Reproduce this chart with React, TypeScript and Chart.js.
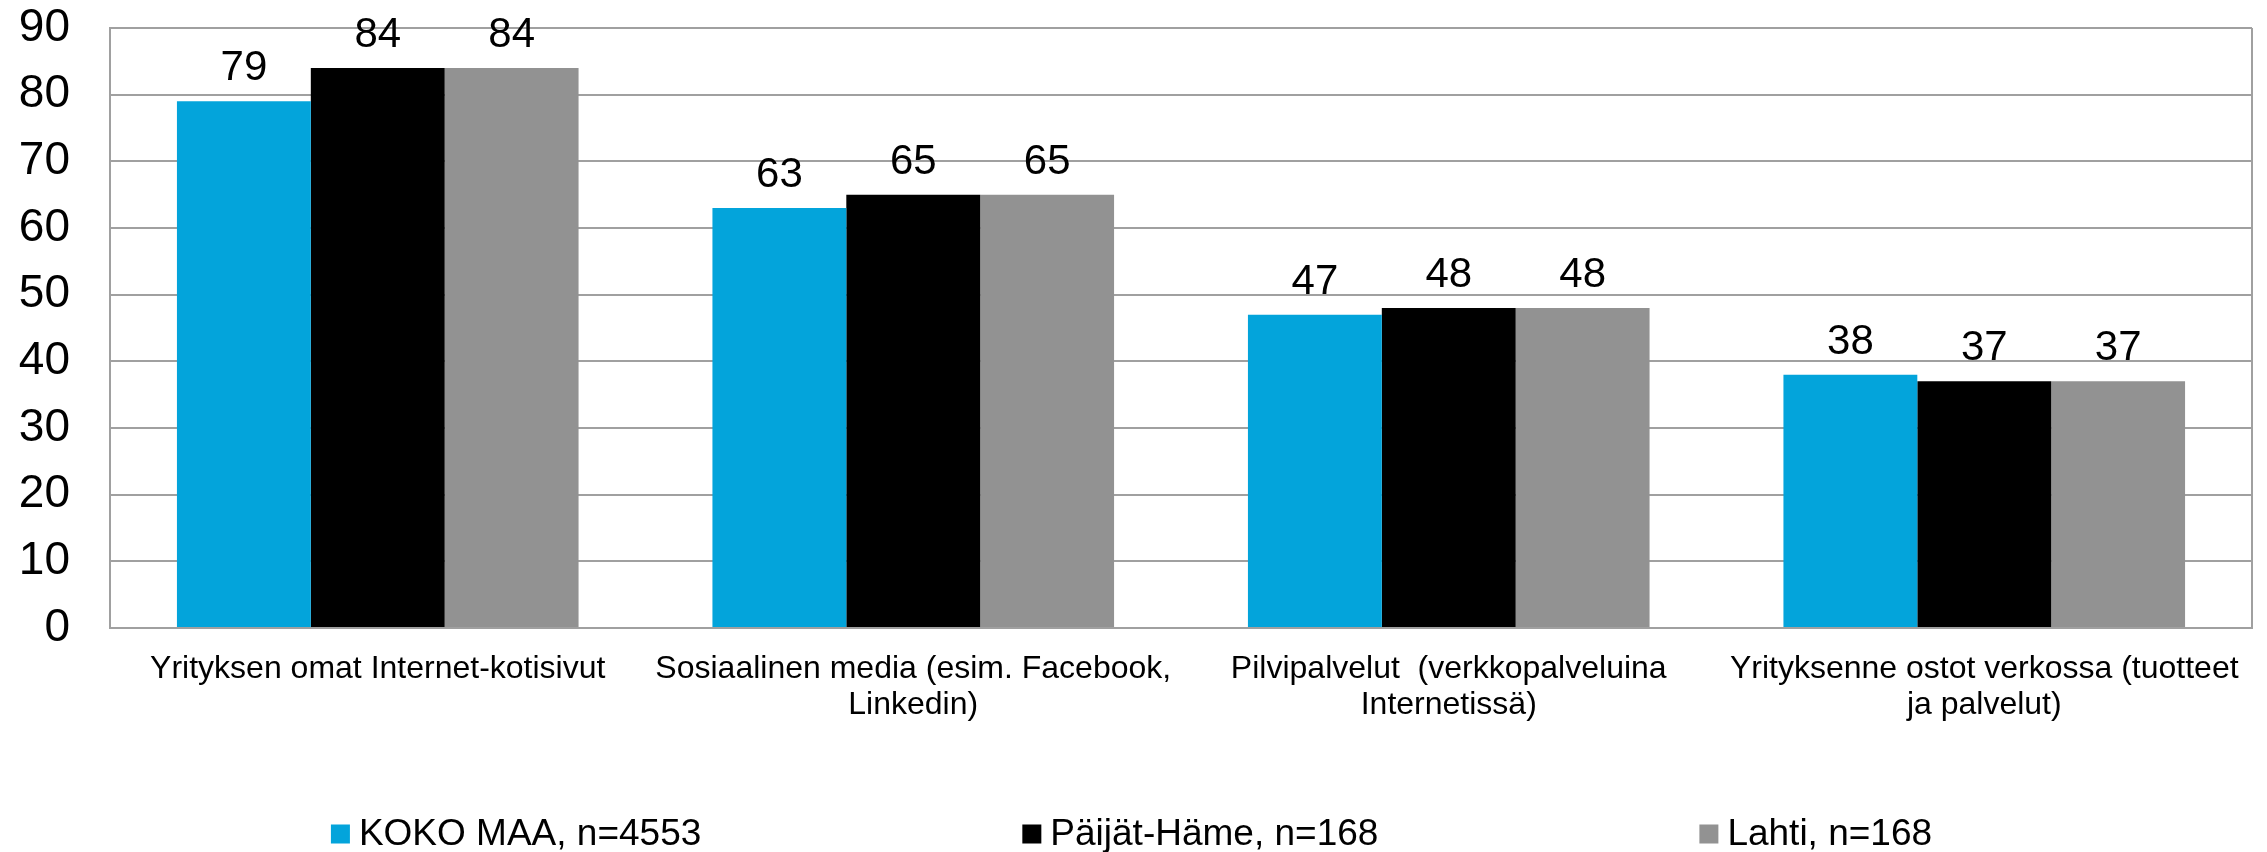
import React, { useEffect, useRef } from "react";
import { Chart, registerables } from "chart.js";

Chart.register(...registerables);

const categories: (string | string[])[] = [
  "Yrityksen omat Internet-kotisivut",
  ["Sosiaalinen media (esim. Facebook,", "Linkedin)"],
  ["Pilvipalvelut  (verkkopalveluina", "Internetissä)"],
  ["Yrityksenne ostot verkossa (tuotteet", "ja palvelut)"],
];

const seriesNames = ["KOKO MAA, n=4553", "Päijät-Häme, n=168", "Lahti, n=168"];
const kokoMaa = [79, 63, 47, 38];
const paijatHame = [84, 65, 48, 37];
const lahti = [84, 65, 48, 37];
const seriesColors = ["#03A4DB", "#000000", "#929292"];

const yMin = 0;
const yMax = 90;
const yStep = 10;

const FONT = "'Liberation Sans', Arial, 'DejaVu Sans', sans-serif";
const GRID = "#A0A0A0";

const dataLabelPlugin = {
  id: "dataLabels",
  afterDatasetsDraw(chart: any) {
    const ctx = chart.ctx;
    ctx.save();
    ctx.font = `42px ${FONT}`;
    ctx.fillStyle = "#000000";
    ctx.textAlign = "center";
    ctx.textBaseline = "alphabetic";
    chart.data.datasets.forEach((ds: any, i: number) => {
      const meta = chart.getDatasetMeta(i);
      meta.data.forEach((el: any, j: number) => {
        ctx.fillText(String(ds.data[j]), el.x, el.y - 21);
      });
    });
    ctx.restore();
  },
};

const borderPlugin = {
  id: "plotBorder",
  beforeDatasetsDraw(chart: any) {
    const { ctx, chartArea } = chart;
    ctx.save();
    ctx.strokeStyle = GRID;
    ctx.lineWidth = 2;
    ctx.beginPath();
    ctx.moveTo(chartArea.right, chartArea.top);
    ctx.lineTo(chartArea.right, chartArea.bottom);
    ctx.stroke();
    ctx.restore();
  },
};

const legendPlugin = {
  id: "customLegend",
  afterDraw(chart: any) {
    const ctx = chart.ctx;
    ctx.save();
    ctx.font = `37px ${FONT}`;
    ctx.textAlign = "left";
    ctx.textBaseline = "alphabetic";
    const box = 19;
    const gapText = 9;
    const gapItem = 321;
    const items = chart.data.datasets.map((ds: any) => ({
      text: ds.label,
      color: ds.backgroundColor,
      w: box + gapText + ctx.measureText(ds.label).width,
    }));
    const total =
      items.reduce((s: number, it: any) => s + it.w, 0) + gapItem * (items.length - 1);
    let x = chart.width / 2 - 2 - total / 2;
    const yCenter = 834;
    items.forEach((it: any) => {
      ctx.fillStyle = it.color;
      ctx.fillRect(x, yCenter - box / 2, box, box);
      ctx.fillStyle = "#000000";
      ctx.fillText(it.text, x + box + gapText, 845);
      x += it.w + gapItem;
    });
    ctx.restore();
  },
};

export default function App() {
  const canvasRef = useRef<HTMLCanvasElement | null>(null);

  useEffect(() => {
    document.body.style.margin = "0";
    const canvas = canvasRef.current;
    if (!canvas) return;
    const chart = new Chart(canvas, {
      type: "bar",
      data: {
        labels: categories,
        datasets: [
          { label: seriesNames[0], data: kokoMaa, backgroundColor: seriesColors[0] },
          { label: seriesNames[1], data: paijatHame, backgroundColor: seriesColors[1] },
          { label: seriesNames[2], data: lahti, backgroundColor: seriesColors[2] },
        ],
      },
      options: {
        responsive: false,
        animation: false,
        devicePixelRatio: 1,
        layout: { padding: { left: 19, right: 15, top: 28, bottom: 131 } },
        datasets: {
          bar: { categoryPercentage: 0.75, barPercentage: 1.0, borderWidth: 0 },
        },
        plugins: {
          legend: { display: false },
          tooltip: { enabled: false },
          title: { display: false },
        },
        scales: {
          x: {
            grid: { display: false, drawTicks: false },
            border: { display: true, color: GRID, width: 2 },
            ticks: {
              color: "#000000",
              font: { family: FONT, size: 32, lineHeight: 1.13 },
              padding: 23,
              maxRotation: 0,
              minRotation: 0,
              autoSkip: false,
            },
            afterFit(scale: any) {
              scale.height = 93;
              scale.paddingLeft = 0;
              scale.paddingRight = 0;
            },
          },
          y: {
            min: yMin,
            max: yMax,
            grid: { color: GRID, lineWidth: 2, drawTicks: false },
            border: { display: true, color: GRID, width: 2 },
            ticks: {
              stepSize: yStep,
              color: "#000000",
              font: { family: FONT, size: 46, lineHeight: 1.2 },
              padding: 40,
            },
            afterFit(scale: any) {
              scale.width = 91;
              scale.paddingTop = 0;
              scale.paddingBottom = 0;
            },
          },
        },
      },
      plugins: [borderPlugin, dataLabelPlugin, legendPlugin],
    });
    return () => chart.destroy();
  }, []);

  return (
    <div style={{ width: 2267, height: 852, overflow: "hidden", background: "#ffffff" }}>
      <canvas ref={canvasRef} width={2267} height={852} style={{ display: "block" }} />
    </div>
  );
}
